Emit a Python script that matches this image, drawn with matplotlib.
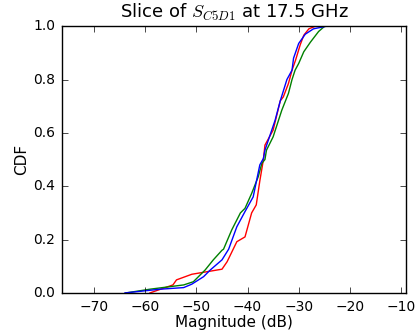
import numpy as np
import matplotlib
matplotlib.use('Agg')
import matplotlib.pyplot as plt

# magnitude (dB) and CDF values
red_x = [-59.1, -54.6, -53.9, -50.9, -45.0, -44.0, -42.1, -40.5, -39.2, -38.3,
         -37.6, -36.9, -36.6, -35.0, -33.6, -33.0, -32.0, -31.3, -30.6, -29.7,
         -29.0, -28.0, -26.7]
red_y = [0.0, 0.03, 0.049, 0.07, 0.089, 0.117, 0.192, 0.21, 0.30, 0.33,
         0.42, 0.50, 0.554, 0.61, 0.72, 0.735, 0.785, 0.835, 0.873, 0.93,
         0.966, 0.99, 1.0]

green_x = [-63.8, -59.1, -52.5, -50.6, -48.3, -46.7, -45.0, -44.7, -43.1, -41.4,
           -40.5, -39.2, -37.9, -37.2, -36.6, -36.3, -35.0, -33.3, -32.0, -31.3,
           -30.7, -30.0, -29.0, -27.7, -26.1, -25.5, -24.9]
green_y = [0.0, 0.014, 0.03, 0.042, 0.086, 0.124, 0.16, 0.164, 0.236, 0.30,
           0.317, 0.373, 0.436, 0.486, 0.50, 0.535, 0.585, 0.685, 0.748, 0.80,
           0.835, 0.86, 0.904, 0.94, 0.98, 0.99, 1.0]

blue_x = [-64.0, -57.1, -52.5, -50.9, -48.6, -47.3, -45.0, -43.7, -42.1, -40.5,
          -38.9, -37.6, -36.9, -36.6, -34.6, -33.6, -32.3, -31.3, -31.0, -30.0,
          -28.7, -27.1, -24.5]
blue_y = [0.0, 0.014, 0.02, 0.033, 0.061, 0.086, 0.124, 0.164, 0.248, 0.305,
          0.36, 0.48, 0.504, 0.535, 0.648, 0.72, 0.80, 0.835, 0.88, 0.935,
          0.97, 0.99, 1.0]

x_ticks = [-70, -60, -50, -40, -30, -20, -10]
y_ticks = [0.0, 0.2, 0.4, 0.6, 0.8, 1.0]

plt.style.use('classic')
fig = plt.figure(figsize=(4.19, 3.31), dpi=100)
fig.patch.set_facecolor('white')
ax = fig.add_axes([0.148, 0.115, 0.821, 0.806])

ax.plot(red_x, red_y, color='r', lw=1)
ax.plot(green_x, green_y, color='g', lw=1)
ax.plot(blue_x, blue_y, color='b', lw=1)

ax.set_xlim(-76.3, -9.0)
ax.set_ylim(0, 1)
ax.set_xticks(x_ticks)
ax.set_yticks(y_ticks)
ax.tick_params(labelsize=10, pad=5)
ax.set_xlabel('Magnitude (dB)', fontsize=11, labelpad=1)
ax.set_ylabel('CDF', fontsize=11, labelpad=3)
ax.set_title('Slice of $S_{C5D1}$ at 17.5 GHz', fontsize=13, y=1.005)

fig.savefig('out.png', dpi=100, facecolor='white')
